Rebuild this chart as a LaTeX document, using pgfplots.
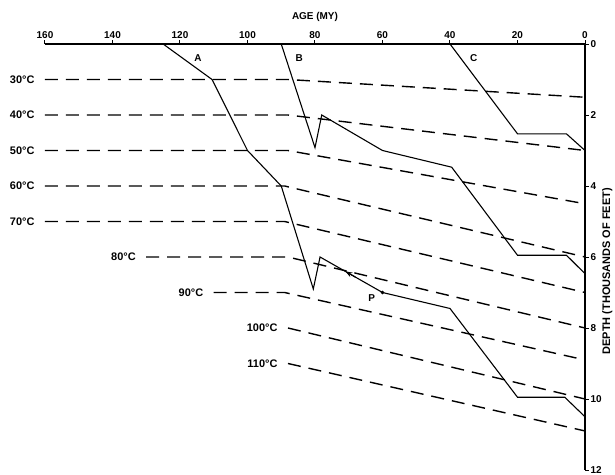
\documentclass[border=0pt]{standalone}
\usepackage{fontspec}
\setmainfont{Liberation Sans}
\usepackage{pgfplots}
\pgfplotsset{compat=1.18}
\usetikzlibrary{arrows.meta}
\begin{document}
\begin{tikzpicture}
\begin{axis}[
  scale only axis, width=540bp, height=426bp,
  xmin=0, xmax=160, x dir=reverse,
  ymin=0, ymax=12, y dir=reverse,
  axis x line*=top, axis y line*=right,
  axis line style={-, line width=1.3pt},
  xtick={0,20,...,160}, ytick={0,2,...,12},
  tick align=outside, major tick length=4bp,
  tick style={black, line width=1pt},
  /pgf/number format/assume math mode=true,
  xticklabel style={font=\fontsize{10}{12}\selectfont\bfseries, inner sep=1.5pt},
  yticklabel style={font=\fontsize{10}{12}\selectfont\bfseries, inner sep=1.5pt},
  clip=false,
]
% isotherms
\pgfplotsset{iso/.style={black, line width=1.4pt, dash pattern=on 13bp off 8bp}}
\addplot[iso] coordinates {(160,1)(88,1)(0,1.5)};
\addplot[iso] coordinates {(160,2)(88,2)(0,3)};
\addplot[iso] coordinates {(160,3)(88,3)(0,4.5)};
\addplot[iso] coordinates {(160,4)(89,4)(0,6)};
\addplot[iso] coordinates {(160,5)(89,5)(0,7)};
\addplot[iso] coordinates {(130,6)(88,6)(0,8)};
\addplot[iso] coordinates {(110,7)(89,7)(0,8.9)};
\addplot[iso] coordinates {(88,8)(0,10)};
\addplot[iso] coordinates {(88,9)(0,10.9)};
% burial curves
\addplot[black, line width=1.1pt] coordinates {(125,0)(110.5,1)(100,3)(90,4)(80.5,6.9)(78.5,6)(60,7)(40,7.45)(20,9.95)(6,9.95)(0,10.5)};
\addplot[black, line width=1.1pt] coordinates {(90,0)(80,2.92)(78,2)(60,3)(39.5,3.47)(20,5.95)(5.5,5.95)(0,6.47)};
\addplot[black, line width=1.1pt] coordinates {(40,0)(20,2.53)(5.5,2.53)(0,3)};
\addplot[black, only marks, mark=*, mark size=1.7pt] coordinates {(60,7)};
\addplot[black, line width=1.1pt, -{Stealth[length=7pt,width=5pt]}] coordinates {(68,6.568)(71,6.405)};
% labels
\begin{scope}[every node/.style={font=\fontsize{11}{13}\selectfont\bfseries, anchor=east, xshift=-7bp}]
\node at (axis cs:160,1) {30°C};
\node at (axis cs:160,2) {40°C};
\node at (axis cs:160,3) {50°C};
\node at (axis cs:160,4) {60°C};
\node at (axis cs:160,5) {70°C};
\node at (axis cs:130,6) {80°C};
\node at (axis cs:110,7) {90°C};
\node at (axis cs:88,8) {100°C};
\node at (axis cs:88,9) {110°C};
\end{scope}
\node[font=\fontsize{10}{12}\selectfont\bfseries] at (axis cs:114.7,0.39) {A};
\node[font=\fontsize{10}{12}\selectfont\bfseries] at (axis cs:84.7,0.39) {B};
\node[font=\fontsize{10}{12}\selectfont\bfseries] at (axis cs:33,0.39) {C};
\node[font=\fontsize{10}{12}\selectfont\bfseries] at (axis cs:63.2,7.15) {P};
\node[font=\fontsize{10}{12}\selectfont\bfseries, yshift=27bp] at (axis cs:80,0) {AGE (MY)};
\node[font=\fontsize{11}{13}\selectfont\bfseries, rotate=90, anchor=north, inner sep=0pt] at (axis cs:-5,6.4) {DEPTH (THOUSANDS OF FEET)};
\end{axis}
\pgfresetboundingbox
\path[use as bounding box] (-45bp,-5bp) rectangle (570bp,470bp);
\end{tikzpicture}
\end{document}
